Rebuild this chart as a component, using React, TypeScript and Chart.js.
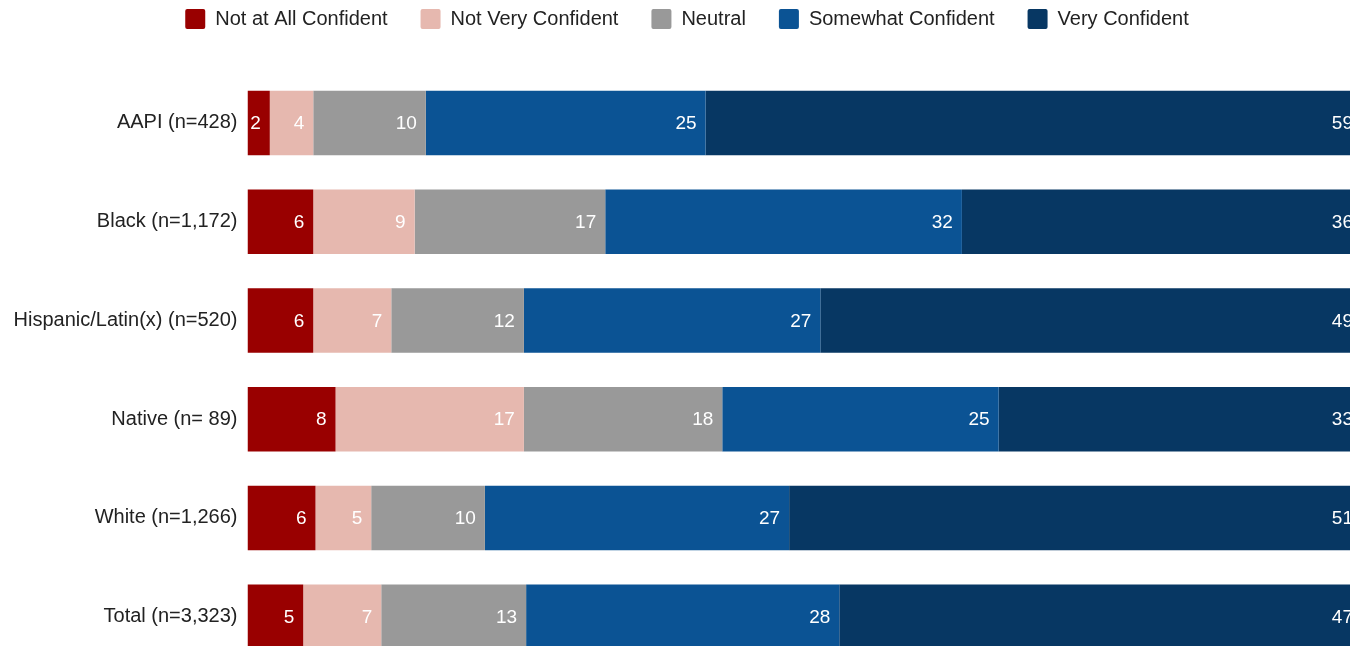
import { useEffect, useRef } from 'react';
import { Chart, registerables } from 'chart.js';

Chart.register(...registerables);

const FONT = '"Liberation Sans", Arial, Helvetica, sans-serif';

const categories = [
  'AAPI (n=428)',
  'Black (n=1,172)',
  'Hispanic/Latin(x) (n=520)',
  'Native (n= 89)',
  'White (n=1,266)',
  'Total (n=3,323)',
];

const seriesNames = [
  'Not at All Confident',
  'Not Very Confident',
  'Neutral',
  'Somewhat Confident',
  'Very Confident',
];

// Percentages; labels show the rounded values.
const notAtAllConfident = [2.0, 5.9, 5.9, 7.9, 6.1, 5.0];
const notVeryConfident = [3.9, 9.1, 7.0, 16.9, 5.0, 7.0];
const neutral = [10.1, 17.1, 11.9, 17.8, 10.2, 13.0];
const somewhatConfident = [25.1, 32.0, 26.6, 24.8, 27.3, 28.1];
const veryConfident = [58.9, 35.9, 48.6, 32.6, 51.4, 46.9];

const seriesColors = ['#990000', '#e6b8af', '#999999', '#0b5394', '#073763'];

const valueLabels = {
  id: 'valueLabels',
  afterDatasetsDraw(chart: any) {
    const ctx = chart.ctx;
    ctx.save();
    ctx.font = `19px ${FONT}`;
    ctx.fillStyle = '#ffffff';
    ctx.textAlign = 'right';
    ctx.textBaseline = 'middle';
    chart.data.datasets.forEach((ds: any, i: number) => {
      const meta = chart.getDatasetMeta(i);
      meta.data.forEach((bar: any, j: number) => {
        const v = ds.data[j];
        ctx.fillText(String(Math.round(v)), bar.x - 9, bar.y + 1);
      });
    });
    ctx.restore();
  },
};

const legendSpacer = {
  id: 'legendSpacer',
  beforeInit(chart: any) {
    const legend = chart.legend;
    if (!legend) return;
    const origFit = legend.fit;
    legend.fit = function () {
      origFit.call(this);
      this.height = 97.6;
    };
  },
};

export default function App() {
  const canvasRef = useRef<HTMLCanvasElement | null>(null);

  useEffect(() => {
    if (!canvasRef.current) return;
    const series = [notAtAllConfident, notVeryConfident, neutral, somewhatConfident, veryConfident];
    const chart = new Chart(canvasRef.current, {
      type: 'bar',
      data: {
        labels: categories,
        datasets: series.map((data, i) => ({
          label: seriesNames[i],
          data,
          backgroundColor: seriesColors[i],
          borderWidth: 0,
          categoryPercentage: 1,
          barPercentage: 0.653,
        })),
      },
      options: {
        indexAxis: 'y',
        animation: false,
        responsive: false,
        maintainAspectRatio: false,
        layout: { padding: { left: 12, right: 0, top: 0, bottom: 0 } },
        plugins: {
          legend: {
            display: true,
            position: 'top',
            labels: {
              boxWidth: 20,
              boxHeight: 20,
              padding: 33,
              color: '#222222',
              font: { family: FONT, size: 20 },
              useBorderRadius: true,
              borderRadius: 2,
            },
          },
          tooltip: { enabled: false },
        },
        scales: {
          x: {
            stacked: true,
            display: false,
            min: 0,
            max: 100,
          },
          y: {
            stacked: true,
            grid: { display: false, drawTicks: false, tickLength: 0 },
            border: { display: false },
            ticks: {
              color: '#222222',
              font: { family: FONT, size: 20 },
              padding: 10,
            },
            afterFit(scale: any) {
              scale.width = 235.5;
              scale.paddingTop = 0;
              scale.paddingBottom = 0;
            },
          },
        },
      },
      plugins: [valueLabels, legendSpacer],
    } as any);
    return () => chart.destroy();
  }, []);

  return (
    <div
      style={{
        position: 'fixed',
        left: 0,
        top: 0,
        width: 1350,
        height: 646,
        overflow: 'hidden',
        background: '#ffffff',
      }}
    >
      <div style={{ position: 'absolute', left: 0, top: -24, width: 1362, height: 690 }}>
        <canvas ref={canvasRef} width={1362} height={690} style={{ width: 1362, height: 690 }} />
      </div>
    </div>
  );
}
